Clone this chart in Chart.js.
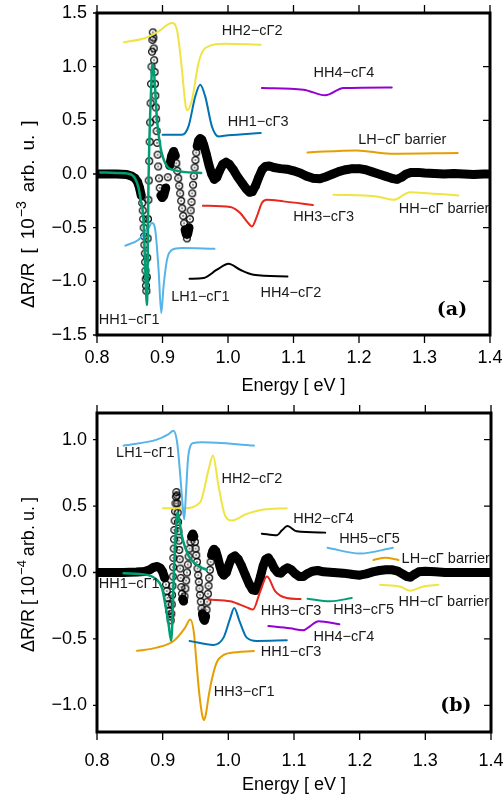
<!DOCTYPE html>
<html>
<head>
<meta charset="utf-8">
<script src="https://cdn.jsdelivr.net/npm/chart.js@4.4.1/dist/chart.umd.min.js"></script>
<style>
  html, body { margin: 0; padding: 0; background: #fff; }
  #wrap { position: relative; width: 504px; height: 799px; }
  #wrap canvas { position: absolute; left: 0; }
  #panelA { top: 0; }
  #panelB { top: 400px; }
</style>
</head>
<body>
<div id="wrap">
  <canvas id="panelA" width="504" height="400"></canvas>
  <canvas id="panelB" width="504" height="399"></canvas>
</div>
<script>
// axis ticks
const energyTicks = [0.8, 0.9, 1.0, 1.1, 1.2, 1.3, 1.4];
const ticksA = [-1.5, -1.0, -0.5, 0, 0.5, 1.0, 1.5];
const ticksB = [-1.0, -0.5, 0, 0.5, 1.0];

// ---- panel (a): measured spectrum [eV, 1e-3] ----
const measuredA = [
  [0.802,0.0],[0.815,0.0],[0.83,0.0],[0.845,-0.005],[0.853,-0.02],[0.858,-0.04],[0.862,-0.075],[0.865,-0.13],[0.8675,-0.2],[0.869,-0.27],
  [0.8698,-0.34],[0.8705,-0.42],[0.8712,-0.5],[0.8718,-0.58],[0.8724,-0.66],[0.873,-0.74],[0.8735,-0.82],[0.874,-0.9],[0.8744,-0.98],[0.8748,-1.04],[0.8753,-1.09],
  [0.876,-0.96],[0.8766,-0.78],[0.8772,-0.6],[0.8778,-0.42],[0.8784,-0.24],[0.879,-0.06],[0.8797,0.12],[0.8804,0.3],[0.8811,0.48],[0.8818,0.66],[0.8825,0.84],[0.8832,1.0],[0.8839,1.14],[0.8845,1.25],[0.8852,1.32],
  [0.886,1.27],[0.8866,1.17],[0.8872,1.06],[0.8878,0.95],[0.8884,0.84],[0.889,0.73],[0.8896,0.62],[0.8903,0.51],[0.891,0.4],[0.8917,0.29],[0.8925,0.18],[0.8934,0.07],[0.8945,-0.04],[0.8958,-0.13],[0.8975,-0.2],[0.8995,-0.22],
  [0.902,-0.2],[0.905,-0.13],[0.908,-0.03],[0.911,0.08],[0.914,0.17],[0.917,0.21],[0.9195,0.17],
  [0.921,0.1],[0.9225,0.03],[0.924,-0.04],[0.9255,-0.11],[0.927,-0.18],[0.9285,-0.25],[0.93,-0.32],[0.9315,-0.39],[0.933,-0.46],[0.9345,-0.52],[0.9362,-0.56],[0.9372,-0.6],[0.9384,-0.56],
  [0.9405,-0.5],[0.9418,-0.42],[0.943,-0.34],[0.9442,-0.26],[0.9454,-0.18],[0.9466,-0.1],[0.9478,-0.02],[0.949,0.06],[0.9502,0.13],[0.9515,0.2],[0.953,0.26],[0.955,0.31],[0.9575,0.33],
  [0.960,0.32],[0.963,0.27],[0.967,0.18],[0.971,0.08],[0.975,0.0],[0.979,-0.05],[0.983,-0.03],[0.987,0.03],[0.992,0.09],[0.997,0.11],[1.002,0.09],[1.008,0.04],
  [1.015,-0.03],[1.022,-0.09],[1.028,-0.14],[1.033,-0.17],[1.037,-0.165],[1.042,-0.11],[1.047,-0.03],[1.052,0.04],[1.057,0.07],[1.063,0.075],[1.07,0.06],
  [1.08,0.05],[1.09,0.045],[1.10,0.03],[1.11,0.01],[1.12,-0.02],[1.13,-0.04],[1.14,-0.045],[1.15,-0.025],[1.16,0.0],[1.17,0.025],[1.18,0.04],[1.19,0.05],
  [1.2,0.05],[1.21,0.04],[1.22,0.02],[1.23,0.0],[1.24,-0.02],[1.25,-0.04],[1.258,-0.05],[1.265,-0.03],[1.272,0.0],[1.28,0.015],[1.29,0.015],[1.30,0.01],
  [1.315,0.005],[1.33,0.0],[1.345,0.005],[1.36,0.0],[1.375,-0.005],[1.39,0.0],[1.398,0.0]
];

// panel (a) transition line shapes
const aHH1cG1 = [[0.805,0.015],[0.83,0.01],[0.85,0.0],[0.858,-0.04],[0.863,-0.12],[0.867,-0.25],[0.871,-0.43],[0.8737,-0.89],[0.8763,-1.22],[0.8787,-0.05],[0.8828,0.82],[0.8848,1.03],[0.8879,0.88],[0.8915,0.51],[0.8966,0.26],[0.9042,0.1],[0.9194,0.034],[0.9591,0.01]];
const aLH1cG1 = [[0.8432,-0.668],[0.8635,-0.612],[0.8787,-0.503],[0.8839,-0.457],[0.8889,-0.52],[0.894,-0.89],[0.8981,-1.295],[0.9016,-1.048],[0.9068,-0.8],[0.9144,-0.706],[0.9297,-0.69],[0.9794,-0.696]];
const aHH2cG2 = [[0.841,1.227],[0.8737,1.267],[0.894,1.329],[0.9144,1.407],[0.922,1.345],[0.9297,0.972],[0.9347,0.662],[0.9373,0.593],[0.945,0.692],[0.955,1.034],[0.9652,1.174],[0.9957,1.214],[1.05,1.205]];
const aHH1cG3 = [[0.9001,0.366],[0.9297,0.366],[0.9397,0.444],[0.95,0.723],[0.9576,0.832],[0.9652,0.723],[0.9754,0.444],[0.9855,0.35],[1.0,0.36],[1.05,0.382]];
const aHH4cG4 = [[1.0517,0.801],[1.1152,0.786],[1.1483,0.733],[1.1762,0.801],[1.25,0.807]];
const aLHbar = [[1.1213,0.201],[1.1966,0.22],[1.2474,0.189],[1.3507,0.196]];
const aHHbar = [[1.161,-0.193],[1.2271,-0.209],[1.2525,-0.24],[1.278,-0.171],[1.298,-0.177],[1.3517,-0.2]];
const aHH3cG3 = [[0.9617,-0.295],[1.0034,-0.308],[1.0186,-0.363],[1.0288,-0.442],[1.0365,-0.488],[1.0441,-0.395],[1.0517,-0.27],[1.0593,-0.24],[1.0847,-0.255],[1.1295,-0.289]];
const aHH4cG2 = [[0.9413,-0.976],[0.9626,-0.969],[0.9831,-0.892],[1.0008,-0.836],[1.0186,-0.892],[1.0389,-0.938],[1.0908,-0.954]];

// curve names, placed at [eV, value]
const namesA = [
  ['HH2−cΓ2', 1.037, 1.336], ['HH4−cΓ4', 1.177, 0.944], ['HH1−cΓ3', 1.046, 0.487],
  ['LH−cΓ barrier', 1.266, 0.320], ['HH3−cΓ3', 1.146, -0.398], ['HH−cΓ barrier', 1.330, -0.323],
  ['LH1−cΓ1', 0.958, -1.143], ['HH4−cΓ2', 1.096, -1.106], ['HH1−cΓ1', 0.849, -1.358]
];

// ---- panel (b): measured spectrum [eV, 1e-4] ----
const measuredB = [
  [0.802,0.0],[0.82,0.0],[0.84,0.0],[0.86,0.003],[0.872,0.008],[0.88,0.02],[0.886,0.038],[0.891,0.045],[0.896,0.035],[0.9,0.005],[0.903,-0.04],
  [0.905,-0.09],[0.9062,-0.14],[0.9074,-0.19],[0.9086,-0.24],[0.9098,-0.29],[0.9112,-0.33],[0.9122,-0.36],
  [0.9131,-0.31],[0.9138,-0.24],[0.9143,-0.17],[0.9148,-0.1],[0.9153,-0.03],[0.9158,0.04],[0.9163,0.11],[0.9168,0.18],[0.9173,0.25],[0.9178,0.32],[0.9183,0.39],[0.9189,0.46],[0.9195,0.52],[0.9201,0.57],[0.9208,0.605],
  [0.9216,0.58],[0.9222,0.52],[0.9228,0.45],[0.9234,0.38],[0.924,0.31],[0.9246,0.24],[0.9252,0.17],[0.9259,0.1],[0.9266,0.03],[0.9274,-0.04],[0.9283,-0.11],[0.9293,-0.16],[0.9305,-0.2],[0.9318,-0.215],
  [0.9332,-0.18],[0.9345,-0.12],[0.9358,-0.06],[0.937,0.0],[0.9382,0.06],[0.9395,0.12],[0.9409,0.18],[0.9424,0.23],[0.944,0.27],[0.9458,0.29],[0.9475,0.27],
  [0.949,0.23],[0.9501,0.18],[0.9511,0.13],[0.9521,0.08],[0.953,0.03],[0.954,-0.02],[0.955,-0.07],[0.956,-0.12],[0.957,-0.17],[0.958,-0.22],[0.9592,-0.27],[0.9605,-0.31],[0.962,-0.345],[0.9637,-0.36],
  [0.9654,-0.33],[0.9667,-0.28],[0.9678,-0.22],[0.9688,-0.16],[0.9698,-0.1],[0.9708,-0.04],[0.9718,0.02],[0.973,0.08],[0.9745,0.13],[0.9762,0.16],[0.978,0.175],
  [0.981,0.16],[0.984,0.11],[0.987,0.05],[0.99,0.0],[0.993,-0.02],[0.997,0.0],[1.001,0.06],[1.005,0.11],[1.01,0.125],[1.015,0.1],[1.02,0.05],[1.026,-0.02],
  [1.032,-0.09],[1.037,-0.13],[1.041,-0.135],[1.045,-0.1],[1.049,-0.03],[1.053,0.05],[1.057,0.1],[1.061,0.11],[1.065,0.08],[1.07,0.03],[1.075,0.0],[1.08,-0.005],
  [1.085,0.02],[1.09,0.035],[1.096,0.02],[1.102,-0.01],[1.108,-0.03],[1.114,-0.03],[1.12,-0.01],[1.128,0.01],[1.136,0.015],[1.145,0.005],[1.16,0.0],[1.175,-0.005],
  [1.19,-0.015],[1.2,-0.02],[1.21,-0.01],[1.22,0.005],[1.23,0.015],[1.24,0.02],[1.25,0.02],[1.258,0.01],[1.265,-0.01],[1.272,-0.03],[1.277,-0.035],[1.283,-0.015],
  [1.29,0.005],[1.3,0.01],[1.315,0.005],[1.33,0.0],[1.35,0.0],[1.37,0.0],[1.385,0.0],[1.398,0.0]
];

// panel (b) transition line shapes
const bLH1cG1 = [[0.8405,0.955],[0.891,1.0],[0.9085,1.04],[0.9165,1.067],[0.922,0.98],[0.9265,0.75],[0.9305,0.5],[0.9328,0.4],[0.9355,0.6],[0.9385,0.85],[0.942,0.95],[0.947,0.975],[0.96,0.98],[1.039,0.955]];
const bHH2cG2 = [[0.9005,0.484],[0.932,0.484],[0.957,0.528],[0.970,0.776],[0.9766,0.881],[0.985,0.653],[0.995,0.429],[1.0055,0.392],[1.028,0.441],[1.0536,0.474],[1.089,0.484]];
const bHH2cG4 = [[1.051,0.292],[1.074,0.28],[1.0816,0.317],[1.09,0.349],[1.104,0.31],[1.1475,0.30]];
const bHH5cG5 = [[1.151,0.186],[1.2008,0.143],[1.2505,0.186]];
const bLHbar = [[1.221,0.094],[1.239,0.111],[1.259,0.094]];
const bHHbar = [[1.2312,-0.092],[1.262,-0.107],[1.2769,-0.137],[1.297,-0.105],[1.320,-0.092]];
const bHH3cG5 = [[1.1206,-0.197],[1.155,-0.217],[1.188,-0.192]];
const bHH3cG3 = [[0.970,-0.204],[1.003,-0.217],[1.028,-0.262],[1.0375,-0.279],[1.0486,-0.142],[1.0588,-0.03],[1.0715,-0.142],[1.089,-0.192],[1.110,-0.2]];
const bHH4cG4 = [[1.061,-0.403],[1.094,-0.42],[1.114,-0.435],[1.1247,-0.403],[1.137,-0.366],[1.169,-0.39]];
const bHH1cG3 = [[0.941,-0.515],[0.9775,-0.545],[0.9927,-0.49],[1.003,-0.341],[1.009,-0.267],[1.017,-0.366],[1.028,-0.49],[1.0435,-0.515],[1.089,-0.51]];
const bHH3cG1 = [[0.861,-0.589],[0.891,-0.565],[0.9166,-0.515],[0.934,-0.416],[0.942,-0.353],[0.9475,-0.45],[0.951,-0.65],[0.9555,-0.9],[0.9605,-1.08],[0.963,-1.11],[0.966,-1.06],[0.970,-0.93],[0.976,-0.78],[0.983,-0.67],[0.993,-0.62],[1.003,-0.605],[1.039,-0.59]];
const bHH1cG1 = [[0.8405,-0.006],[0.876,-0.018],[0.891,-0.055],[0.899,-0.118],[0.904,-0.24],[0.909,-0.39],[0.913,-0.515],[0.9175,0.05],[0.9227,0.454],[0.929,0.28],[0.939,0.13],[0.952,0.057],[0.967,0.019]];

const namesB = [
  ['LH1−cΓ1', 0.8735, 0.901], ['HH2−cΓ2', 1.036, 0.700], ['HH2−cΓ4', 1.145, 0.402],
  ['HH5−cΓ5', 1.215, 0.253], ['LH−cΓ barrier', 1.331, 0.100], ['HH1−cΓ1', 0.849, -0.090],
  ['HH3−cΓ3', 1.0955, -0.291], ['HH3−cΓ5', 1.206, -0.284], ['HH−cΓ barrier', 1.328, -0.221],
  ['HH4−cΓ4', 1.176, -0.485], ['HH1−cΓ3', 1.0955, -0.597], ['HH3−cΓ1', 1.024, -0.902]
];

const GREEN = '#009e73', SKY = '#56b4e9', YELLOW = '#f0e442', BLUE = '#0072b2',
      ORANGE = '#e69f00', RED = '#e8261c', PURPLE = '#9400d3', BLACK = '#000';
const FONT = "'Liberation Sans', Arial, sans-serif";

Chart.defaults.font.family = FONT;
Chart.defaults.color = '#000';

// open circle with a dot in the middle, used for the measured points
function ringMarker() {
  const c = document.createElement('canvas');
  c.width = 10; c.height = 10;
  const g = c.getContext('2d');
  g.strokeStyle = '#000';
  g.lineWidth = 1.2;
  g.beginPath(); g.arc(5, 5, 3.4, 0, Math.PI * 2); g.stroke();
  g.fillStyle = '#000';
  g.beginPath(); g.arc(5, 5, 0.8, 0, Math.PI * 2); g.fill();
  return c;
}
const ring = ringMarker();

const toXY = pairs => pairs.map(([x, y]) => ({ x, y }));

function fit(pairs, color, width) {
  return {
    data: toXY(pairs), borderColor: color, borderWidth: width || 2,
    pointRadius: 0, fill: false, cubicInterpolationMode: 'monotone',
    borderCapStyle: 'round', borderJoinStyle: 'round'
  };
}

// dense stretches of the spectrum merge into a thick band, steep ones stay as single circles
function measured(pairs) {
  return {
    data: toXY(pairs), borderColor: '#000', borderWidth: 9, tension: 0, fill: false,
    borderCapStyle: 'round', borderJoinStyle: 'round',
    pointStyle: ring, pointRadius: 3.4,
    segment: {
      borderColor: ctx => {
        const dx = Math.abs(ctx.p1.x - ctx.p0.x), dy = Math.abs(ctx.p1.y - ctx.p0.y);
        return (dy > 3 && dy > 5 * dx) ? 'rgba(0,0,0,0)' : '#000';
      }
    }
  };
}

function drawYTitle(ctx, cx, start, exp, size, gap) {
  ctx.save();
  ctx.translate(cx, start);
  ctx.rotate(-Math.PI / 2);
  ctx.fillStyle = '#000';
  ctx.textAlign = 'left';
  ctx.textBaseline = 'middle';
  const big = `${size}px ${FONT}`, small = `${Math.round(size * 0.72)}px ${FONT}`;
  let pos = 0;
  const put = (t, font, dy, g) => {
    ctx.font = font;
    ctx.fillText(t, pos, dy);
    pos += ctx.measureText(t).width + g;
  };
  put('ΔR/R', big, 0, gap);
  put('[', big, 0, gap);
  put('10', big, 0, 1);
  put(exp, small, -7, gap);
  put('arb.', big, 0, gap);
  put('u.', big, 0, gap);
  put(']', big, 0, 0);
  ctx.restore();
}

// frame, tick marks, curve names and panel letter
const panelFrame = {
  id: 'panelFrame',
  afterDatasetsDraw(chart, _args, o) {
    const { ctx, chartArea: a } = chart;
    const xs = chart.scales.x, ys = chart.scales.y;
    ctx.save();
    ctx.strokeStyle = '#000';
    ctx.lineWidth = 1.3;
    ctx.beginPath();
    energyTicks.forEach(v => {
      const px = xs.getPixelForValue(v);
      ctx.moveTo(px, a.top - 8); ctx.lineTo(px, a.top);
      ctx.moveTo(px, a.bottom); ctx.lineTo(px, a.bottom + 8);
    });
    o.yTicks.forEach(v => {
      const py = ys.getPixelForValue(v);
      ctx.moveTo(a.left - 4, py); ctx.lineTo(a.left, py);
      ctx.moveTo(a.right - 7, py); ctx.lineTo(a.right, py);
    });
    ctx.stroke();
    ctx.lineWidth = 3;
    ctx.strokeRect(a.left, a.top, a.right - a.left, a.bottom - a.top);

    ctx.fillStyle = '#1a1a1a';
    ctx.font = `14.5px ${FONT}`;
    ctx.textAlign = 'center';
    ctx.textBaseline = 'middle';
    o.names.forEach(([t, ex, ey]) => ctx.fillText(t, xs.getPixelForValue(ex), ys.getPixelForValue(ey)));

    ctx.fillStyle = '#000';
    ctx.font = "bold 19px 'DejaVu Serif', serif";
    ctx.fillText(o.letter[0], xs.getPixelForValue(o.letter[1]), ys.getPixelForValue(o.letter[2]));
    ctx.restore();

    drawYTitle(ctx, 29, o.title.start, o.title.exp, o.title.size, o.title.gap);
  }
};

function makePanel(id, p) {
  return new Chart(document.getElementById(id), {
    type: 'line',
    data: { datasets: p.datasets },
    options: {
      responsive: false,
      animation: false,
      events: [],
      layout: { padding: { left: 0, right: p.right, top: p.top, bottom: 0 } },
      plugins: {
        legend: { display: false },
        tooltip: { enabled: false },
        panelFrame: { yTicks: p.yTicks, names: p.names, letter: p.letter, title: p.title }
      },
      scales: {
        x: {
          type: 'linear', min: 0.8, max: 1.4,
          afterBuildTicks: s => { s.ticks = energyTicks.map(v => ({ value: v })); },
          afterFit: s => { s.height = p.xHeight; s.paddingLeft = 0; s.paddingRight = 0; },
          grid: { display: false, drawTicks: false },
          border: { display: false },
          ticks: { font: { size: 18 }, padding: p.xPad, maxRotation: 0, autoSkip: false,
                   callback: v => v.toFixed(1) },
          title: { display: true, text: 'Energy [ eV ]', font: { size: 18 },
                   padding: { top: 0, bottom: 3 } }
        },
        y: {
          type: 'linear', min: p.yMin, max: p.yMax,
          afterBuildTicks: s => { s.ticks = p.yTicks.map(v => ({ value: v })); },
          afterFit: s => { s.width = 97; s.paddingTop = 0; s.paddingBottom = 0; },
          grid: { display: false, drawTicks: false },
          border: { display: false },
          ticks: { font: { size: 18 }, padding: 10,
                   callback: v => (v < 0 ? '−' : '') + Math.abs(v).toFixed(1) }
        }
      }
    },
    plugins: [panelFrame]
  });
}

makePanel('panelA', {
  top: 13, right: 14, xHeight: 65, xPad: 12, yMin: -1.5, yMax: 1.5, yTicks: ticksA,
  names: namesA, letter: ['(a)', 1.342, -1.265],
  title: { start: 308, exp: '−3', size: 19, gap: 9 },
  datasets: [
    fit(aHH1cG1, GREEN, 2.5), fit(aLH1cG1, SKY), fit(aHH2cG2, YELLOW), fit(aHH1cG3, BLUE),
    fit(aHH4cG4, PURPLE), fit(aLHbar, ORANGE), fit(aHHbar, YELLOW), fit(aHH3cG3, RED),
    fit(aHH4cG2, BLACK), measured(measuredA)
  ]
});

makePanel('panelB', {
  top: 10, right: 13, xHeight: 67, xPad: 18, yMin: -1.2, yMax: 1.2, yTicks: ticksB,
  names: namesB, letter: ['(b)', 1.3465, -1.007],
  title: { start: 252, exp: '−4', size: 18, gap: 4 },
  datasets: [
    fit(bHH1cG1, GREEN, 2.5), fit(bLH1cG1, SKY), fit(bHH2cG2, YELLOW), fit(bHH2cG4, BLACK),
    fit(bHH5cG5, SKY), fit(bLHbar, ORANGE), fit(bHHbar, YELLOW), fit(bHH3cG5, GREEN),
    fit(bHH3cG3, RED), fit(bHH4cG4, PURPLE), fit(bHH1cG3, BLUE), fit(bHH3cG1, ORANGE),
    measured(measuredB)
  ]
});
</script>
</body>
</html>
